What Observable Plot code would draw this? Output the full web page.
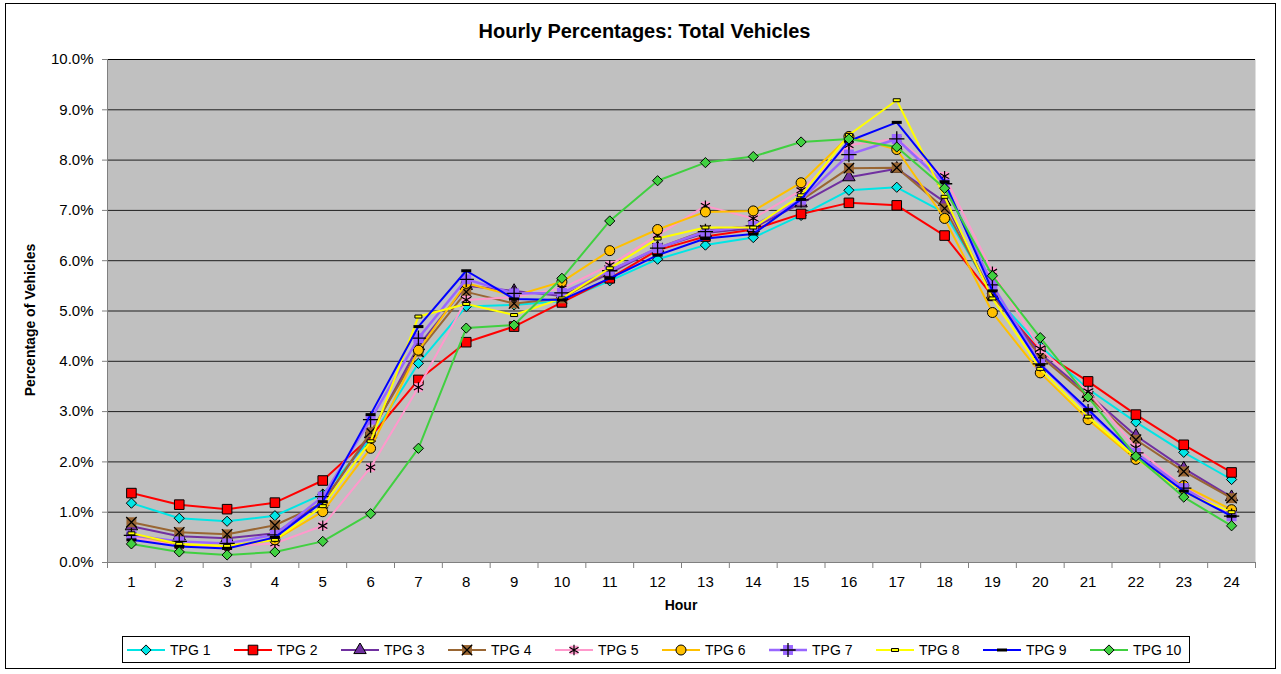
<!DOCTYPE html>
<html><head><meta charset="utf-8">
<script src="https://cdn.jsdelivr.net/npm/d3@7"></script>
<script src="https://cdn.jsdelivr.net/npm/@observablehq/plot@0.6"></script>
<style>
body{margin:0;background:#fff;font-family:"Liberation Sans",Arial,sans-serif;color:#000;}
#frame{position:absolute;left:5px;top:3px;width:1271px;height:666px;border:1px solid #000;box-sizing:border-box;}
#title{position:absolute;left:4px;top:19px;width:1281px;text-align:center;font-weight:bold;font-size:20px;line-height:24px;}
#chart{position:absolute;left:0;top:45px;}
#ylabel{position:absolute;left:30px;top:320px;transform:translate(-50%,-50%) rotate(-90deg);font-weight:bold;font-size:14px;white-space:nowrap;}
#xlabel{position:absolute;left:681px;top:597px;transform:translateX(-50%);font-weight:bold;font-size:14px;}
#legend{position:absolute;left:122px;top:636px;width:1068px;height:27px;border:1px solid #000;box-sizing:border-box;}
.li{position:absolute;top:0;height:25px;display:flex;align-items:center;font-size:14px;white-space:nowrap;}
.li svg{margin-right:5px;}
</style></head><body>
<div id="frame"></div>
<div id="title">Hourly Percentages: Total Vehicles</div>
<div id="chart"></div>
<div id="ylabel">Percentage of Vehicles</div>
<div id="xlabel">Hour</div>
<div id="legend"></div>
<script>
const hours = [1,2,3,4,5,6,7,8,9,10,11,12,13,14,15,16,17,18,19,20,21,22,23,24];
const yTicks = [0,1,2,3,4,5,6,7,8,9,10];
const hourBounds = [0.5,1.5,2.5,3.5,4.5,5.5,6.5,7.5,8.5,9.5,10.5,11.5,12.5,13.5,14.5,15.5,16.5,17.5,18.5,19.5,20.5,21.5,22.5,23.5,24.5];

const seriesNames = ["TPG 1","TPG 2","TPG 3","TPG 4","TPG 5","TPG 6","TPG 7","TPG 8","TPG 9","TPG 10"];
const tpg1  = [1.18,0.88,0.82,0.93,1.36,2.45,3.96,5.09,5.12,5.20,5.60,6.03,6.31,6.46,6.90,7.40,7.46,6.95,5.35,4.30,3.45,2.79,2.19,1.65];
const tpg2  = [1.38,1.15,1.06,1.19,1.63,2.50,3.63,4.38,4.69,5.17,5.65,6.21,6.48,6.62,6.93,7.15,7.10,6.50,5.30,4.20,3.60,2.94,2.34,1.79];
const tpg3  = [0.72,0.52,0.48,0.58,1.20,2.55,4.30,5.50,5.40,5.30,5.75,6.25,6.55,6.65,7.14,7.66,7.83,7.17,5.32,4.15,3.35,2.52,1.87,1.30];
const tpg4  = [0.80,0.60,0.56,0.74,1.18,2.59,4.19,5.38,5.15,5.25,5.80,6.25,6.60,6.69,7.20,7.84,7.85,7.04,5.32,4.10,3.30,2.44,1.81,1.28];
const tpg5  = [0.50,0.33,0.32,0.38,0.73,1.89,3.48,5.22,5.28,5.45,5.91,6.51,7.09,6.84,7.40,8.30,8.42,7.68,5.78,4.25,3.40,2.28,1.50,0.95];
const tpg6  = [0.55,0.36,0.33,0.45,1.01,2.27,4.22,5.55,5.30,5.58,6.20,6.62,6.97,6.99,7.55,8.47,8.21,6.84,4.97,3.77,2.84,2.05,1.53,1.05];
const tpg7  = [0.54,0.42,0.38,0.55,1.31,2.84,4.46,5.63,5.35,5.36,5.80,6.25,6.58,6.69,7.21,8.11,8.42,7.53,5.52,3.95,3.00,2.18,1.48,0.92];
const tpg8  = [0.58,0.37,0.33,0.45,1.12,2.41,4.89,5.14,4.92,5.25,5.85,6.44,6.66,6.66,7.30,8.50,9.19,7.27,5.25,3.85,2.90,2.08,1.40,1.00];
const tpg9  = [0.45,0.32,0.28,0.50,1.21,2.94,4.69,5.80,5.24,5.22,5.65,6.11,6.44,6.53,7.22,8.38,8.75,7.57,5.40,3.93,3.04,2.13,1.42,0.92];
const tpg10 = [0.37,0.21,0.15,0.21,0.42,0.97,2.27,4.66,4.72,5.65,6.79,7.59,7.95,8.07,8.36,8.42,8.26,7.44,5.70,4.47,3.29,2.11,1.30,0.73];
const seriesValues = [tpg1,tpg2,tpg3,tpg4,tpg5,tpg6,tpg7,tpg8,tpg9,tpg10];
const seriesColors = ["#00E5E5","#FF0000","#7030A0","#996633","#FF99CC","#FFC000","#9966FF","#FFFF00","#0000FF","#40D040"];

const dash = (w,h) => ({draw(ctx){ ctx.moveTo(-w/2,-h/2); ctx.lineTo(w/2,-h/2); ctx.lineTo(w/2,h/2); ctx.lineTo(-w/2,h/2); ctx.closePath(); }});
const markerLayers = (c) => [
  [{symbol:"diamond2", r:4.6, fill:c, stroke:"#000", sw:1}],
  [{symbol:"square", r:5.4, fill:c, stroke:"#000", sw:1}],
  [{symbol:"triangle", r:4.6, fill:c, stroke:"#000", sw:1}],
  [{symbol:"square", r:5.6, fill:c, stroke:"none", sw:0},{symbol:"times", r:4.8, fill:"none", stroke:"#000", sw:1.3}],
  [{symbol:"square", r:4.8, fill:c, stroke:"none", sw:0},{symbol:"asterisk", r:5, fill:"none", stroke:"#000", sw:1.2}],
  [{symbol:"circle", r:5, fill:c, stroke:"#000", sw:1}],
  [{symbol:"square", r:5.6, fill:c, stroke:"none", sw:0},{symbol:"plus", r:5, fill:"none", stroke:"#000", sw:1.3}],
  [{symbol:dash(7,3), r:4, fill:c, stroke:"#000", sw:1}],
  [{symbol:dash(10,3), r:4, fill:"#000", stroke:"none", sw:0}],
  [{symbol:"diamond2", r:4.6, fill:c, stroke:"#000", sw:1}]
];

const seriesMarks = [];
seriesNames.forEach((name,i) => {
  const rows = hours.map((h,j) => ({hour:h, value:seriesValues[i][j], series:name}));
  const c = seriesColors[i];
  seriesMarks.push(Plot.line(rows,{x:"hour", y:"value", stroke:c, strokeWidth: i===6 ? 2.5 : 2}));
  markerLayers(c)[i].forEach(m => {
    seriesMarks.push(Plot.dot(rows,{x:"hour", y:"value", symbol:m.symbol, r:m.r, fill:m.fill, stroke:m.stroke, strokeWidth:m.sw}));
  });
});

const chart = Plot.plot({
  width:1281, height:580,
  marginLeft:107, marginRight:26, marginTop:14, marginBottom:63,
  style:{fontFamily:"'Liberation Sans', Arial, sans-serif", fontSize:"15px", color:"#000", background:"transparent", overflow:"visible"},
  x:{domain:[0.5,24.5], axis:null},
  y:{domain:[0,10], axis:null},
  marks:[
    Plot.frame({fill:"#C0C0C0", stroke:"none"}),
    Plot.ruleY(yTicks.filter(t => t>0 && t<10), {stroke:"#1e1e1e", strokeWidth:1}),
    Plot.ruleY([10], {stroke:"#000", strokeWidth:1}),
    Plot.axisY(yTicks,{anchor:"left", tickSize:5, tickPadding:9, tickFormat:d => d.toFixed(1)+"%", stroke:"#808080", fill:"#000", label:null}),
    Plot.axisX(hourBounds,{anchor:"bottom", tickSize:6, tickFormat:() => "", stroke:"#808080", label:null}),
    Plot.axisX(hours,{anchor:"bottom", tickSize:0, tickPadding:14, fill:"#000", label:null}),
    Plot.ruleX([0.5], {stroke:"#808080"}),
    Plot.ruleY([0], {stroke:"#808080"}),
    ...seriesMarks
  ]
});
document.getElementById("chart").appendChild(chart);

// legend
const legend = document.getElementById("legend");
const symFor = s => typeof s === "string" ? ({diamond2:d3.symbolDiamond2, square:d3.symbolSquare, triangle:d3.symbolTriangle, times:d3.symbolTimes, asterisk:d3.symbolAsterisk, circle:d3.symbolCircle, plus:d3.symbolPlus})[s] : s;
seriesNames.forEach((name,i) => {
  const c = seriesColors[i];
  const item = document.createElement("div");
  item.className = "li";
  item.style.left = (4 + i*107) + "px";
  const svg = d3.create("svg").attr("width",38).attr("height",14);
  svg.append("line").attr("x1",0).attr("x2",38).attr("y1",7).attr("y2",7).attr("stroke",c).attr("stroke-width", i===6 ? 2.5 : 2);
  markerLayers(c)[i].forEach(m => {
    svg.append("path").attr("transform","translate(19,7)")
      .attr("d", d3.symbol(symFor(m.symbol), m.r*m.r*Math.PI)())
      .attr("fill", m.fill).attr("stroke", m.stroke).attr("stroke-width", m.sw);
  });
  item.appendChild(svg.node());
  const t = document.createElement("span");
  t.textContent = name;
  item.appendChild(t);
  legend.appendChild(item);
});
</script>
</body></html>
